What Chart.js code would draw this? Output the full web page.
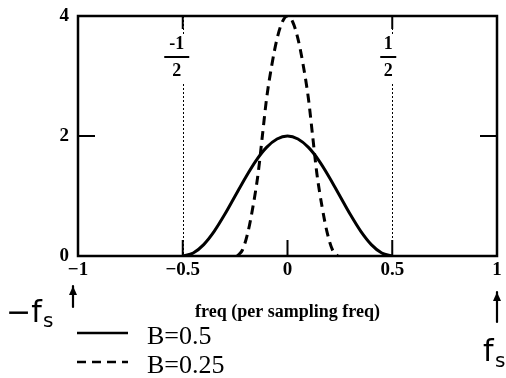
<!DOCTYPE html>
<html>
<head>
<meta charset="utf-8">
<script src="https://cdn.jsdelivr.net/npm/chart.js@4"></script>
<style>
  html, body { margin: 0; padding: 0; background: #fff; }
</style>
</head>
<body>
<canvas id="specChart" width="506" height="378"></canvas>
<script>
// spectra (freq in units of the sampling freq)
const freqB05 = [-0.5, -0.45, -0.4, -0.35, -0.3, -0.25, -0.2, -0.15, -0.1, -0.05, 0,
                 0.05, 0.1, 0.15, 0.2, 0.25, 0.3, 0.35, 0.4, 0.45, 0.5];
const magB05 = [0, 0.05, 0.19, 0.41, 0.69, 1.0, 1.31, 1.59, 1.81, 1.95, 2,
                1.95, 1.81, 1.59, 1.31, 1.0, 0.69, 0.41, 0.19, 0.05, 0];
const freqB025 = [-0.24, -0.215, -0.19, -0.165, -0.14, -0.12, -0.1, -0.075, -0.05, -0.025, 0,
                  0.025, 0.05, 0.075, 0.1, 0.12, 0.14, 0.165, 0.19, 0.215, 0.24];
const magB025 = [0, 0.1, 0.38, 0.82, 1.38, 2.0, 2.62, 3.18, 3.62, 3.9, 4,
                 3.9, 3.62, 3.18, 2.62, 2.0, 1.38, 0.82, 0.38, 0.1, 0];
const seriesLabels = ['B=0.5', 'B=0.25'];
const xTicks = [-1, -0.5, 0, 0.5, 1];
const yTicks = [0, 2, 4];
const markerFreqs = [-0.5, 0.5];
const markerNums = ['-1', '1'];

const serif = "'Liberation Serif', 'Times New Roman', serif";
const hand = "'DejaVu Sans', sans-serif";

const toPoints = (xs, ys) => xs.map((x, i) => ({ x: x, y: ys[i] }));

// box, inward ticks, dotted markers, fraction labels, legend, pen notes
const decor = {
  id: 'decor',
  beforeDatasetsDraw(chart) {
    const { ctx, chartArea: a, scales: { x } } = chart;
    ctx.save();
    ctx.strokeStyle = '#000';
    ctx.lineWidth = 1;
    ctx.setLineDash([2, 2]);
    markerFreqs.forEach(f => {
      const px = Math.round(x.getPixelForValue(f)) + 0.5;
      ctx.beginPath();
      ctx.moveTo(px, a.top);
      ctx.lineTo(px, a.bottom);
      ctx.stroke();
    });
    ctx.restore();
  },
  afterDraw(chart) {
    const { ctx, chartArea: a, scales: { x, y } } = chart;
    ctx.save();
    ctx.strokeStyle = '#000';
    ctx.fillStyle = '#000';

    // frame
    ctx.lineWidth = 2.5;
    ctx.strokeRect(a.left, a.top, a.right - a.left, a.bottom - a.top);

    // inward ticks
    ctx.lineWidth = 2;
    [-0.5, 0, 0.5].forEach(f => {
      const px = x.getPixelForValue(f);
      ctx.beginPath();
      ctx.moveTo(px, a.bottom);
      ctx.lineTo(px, a.bottom - 16);
      ctx.stroke();
    });
    markerFreqs.forEach(f => {
      const px = x.getPixelForValue(f);
      ctx.beginPath();
      ctx.moveTo(px, a.top);
      ctx.lineTo(px, a.top + 13);
      ctx.stroke();
    });
    const py2 = y.getPixelForValue(2);
    ctx.beginPath();
    ctx.moveTo(a.left, py2); ctx.lineTo(a.left + 17, py2);
    ctx.moveTo(a.right, py2); ctx.lineTo(a.right - 17, py2);
    ctx.stroke();

    // fraction labels beside the dotted markers
    ctx.font = 'bold 18px ' + serif;
    ctx.textAlign = 'center';
    ctx.textBaseline = 'middle';
    markerFreqs.forEach((f, i) => {
      const cx = x.getPixelForValue(f) - (i === 0 ? 6 : 4);
      const w = i === 0 ? 25 : 16;
      ctx.fillStyle = '#fff';
      ctx.fillRect(cx - w / 2, a.top + 19, w, 47);
      ctx.fillStyle = '#000';
      ctx.fillText(markerNums[i], cx, a.top + 28);
      ctx.fillRect(cx - w / 2, a.top + 40, w, 2);
      ctx.fillText('2', cx, a.top + 55);
    });

    // legend
    chart.data.datasets.forEach((ds, i) => {
      const ly = 333 + i * 29;
      ctx.lineWidth = 2.5;
      ctx.setLineDash(ds.borderDash || []);
      ctx.beginPath();
      ctx.moveTo(77, ly);
      ctx.lineTo(128, ly);
      ctx.stroke();
      ctx.setLineDash([]);
      ctx.font = '26px ' + serif;
      ctx.textAlign = 'left';
      ctx.fillText(ds.label, 147, ly + 4);
    });

    // handwritten notes: -fs and fs with arrows
    ctx.lineWidth = 2.2;
    ctx.lineCap = 'round';
    const arrow = (ax, y0, y1) => {
      ctx.beginPath();
      ctx.moveTo(ax, y0); ctx.lineTo(ax, y1);
      ctx.stroke();
      ctx.beginPath();
      ctx.moveTo(ax - 4, y1 + 9); ctx.lineTo(ax, y1); ctx.lineTo(ax + 4, y1 + 9);
      ctx.closePath();
      ctx.fill();
    };
    arrow(73, 307, 286);
    arrow(497, 322, 292);
    ctx.textAlign = 'left';
    ctx.font = '30px ' + hand;
    ctx.fillText('\u2212f', 6, 314);
    ctx.font = '20px ' + hand;
    ctx.fillText('s', 43, 322);
    ctx.font = '30px ' + hand;
    ctx.fillText('f', 483, 353);
    ctx.font = '20px ' + hand;
    ctx.fillText('s', 495, 362);
    ctx.restore();
  }
};

new Chart(document.getElementById('specChart'), {
  type: 'line',
  data: {
    datasets: [
      {
        label: seriesLabels[0],
        data: toPoints(freqB05, magB05),
        borderColor: '#000',
        borderWidth: 3,
        pointRadius: 0,
        cubicInterpolationMode: 'monotone'
      },
      {
        label: seriesLabels[1],
        data: toPoints(freqB025, magB025),
        borderColor: '#000',
        borderWidth: 3,
        borderDash: [9, 6],
        pointRadius: 0,
        cubicInterpolationMode: 'monotone'
      }
    ]
  },
  options: {
    responsive: false,
    animation: false,
    layout: { padding: { top: 16, right: 9, left: 0, bottom: 0 } },
    plugins: {
      legend: { display: false },
      tooltip: { enabled: false }
    },
    scales: {
      x: {
        type: 'linear',
        min: -1,
        max: 1,
        afterBuildTicks: s => { s.ticks = xTicks.map(v => ({ value: v })); },
        afterFit: s => { s.height = 122; s.paddingLeft = 0; s.paddingRight = 0; },
        grid: { display: false, drawTicks: false },
        border: { display: false },
        ticks: {
          padding: 3,
          color: '#000',
          font: { family: serif, size: 19, weight: 'bold' },
          maxRotation: 0,
          callback: v => String(v).replace('-', '\u2212')
        },
        title: {
          display: true,
          text: 'freq (per sampling freq)',
          color: '#000',
          font: { family: serif, size: 18, weight: 'bold' },
          padding: { top: 4, bottom: 55 }
        }
      },
      y: {
        min: 0,
        max: 4,
        afterBuildTicks: s => { s.ticks = yTicks.map(v => ({ value: v })); },
        afterFit: s => { s.width = 78; s.paddingTop = 0; s.paddingBottom = 0; },
        grid: { display: false, drawTicks: false },
        border: { display: false },
        ticks: {
          padding: 9,
          color: '#000',
          font: { family: serif, size: 19, weight: 'bold' }
        }
      }
    }
  },
  plugins: [decor]
});
</script>
</body>
</html>
